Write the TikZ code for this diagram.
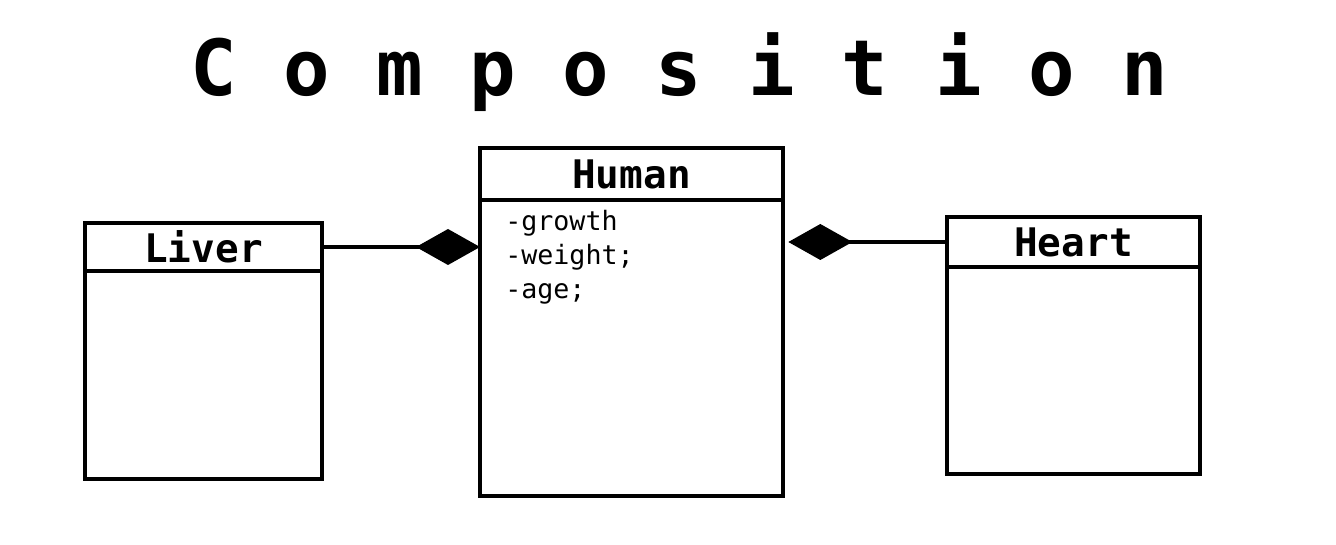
\documentclass[tikz,border=0pt]{standalone}
\usepackage{fontspec}
\setmonofont{DejaVu Sans Mono}
\usetikzlibrary{positioning,arrows.meta}

\tikzset{
  classhead/.style={draw, line width=3pt, outer sep=0pt, inner sep=0pt,
    anchor=north west, font=\ttfamily\bfseries\fontsize{29.5}{32}\selectfont},
  classbody/.style={draw, line width=3pt, outer sep=0pt, inner sep=0pt},
  comp/.style={line width=3pt, -{Diamond[length=48pt,width=27pt]}}
}

\begin{document}
\begin{tikzpicture}[x=0.75pt,y=-0.75pt]
  \useasboundingbox (0,0) rectangle (1336,545);

  % title
  \node (title) at (679,72) {\ttfamily\bfseries\fontsize{58}{60}\selectfont C o m p o s i t i o n};

  % classes
  \node[classhead, minimum width=177.75pt, minimum height=36pt] (liver) at (85,223) {Liver};
  \node[classbody, minimum width=177.75pt, minimum height=156pt, below=0pt of liver] (liverbody) {};

  \node[classhead, minimum width=227.25pt, minimum height=39pt] (human) at (480,148) {Human};
  \node[classbody, minimum width=227.25pt, minimum height=222pt, below=0pt of human] (humanbody) {};
  \node[anchor=north west, inner sep=0pt, align=left,
    font=\ttfamily\fontsize{20}{25.5}\selectfont] (attrs) at (505,210)
    {-growth\\-weight;\\-age;};

  \node[classhead, minimum width=189.75pt, minimum height=37.5pt] (heart) at (947,217) {Heart};
  \node[classbody, minimum width=189.75pt, minimum height=155.25pt, below=0pt of heart] (heartbody) {};

  % composition links
  \draw[comp] (liver.east) -- (liver.east -| human.west);
  \draw[comp, shorten >=4pt] (heart.west) -- (heart.west -| human.east);
\end{tikzpicture}
\end{document}
